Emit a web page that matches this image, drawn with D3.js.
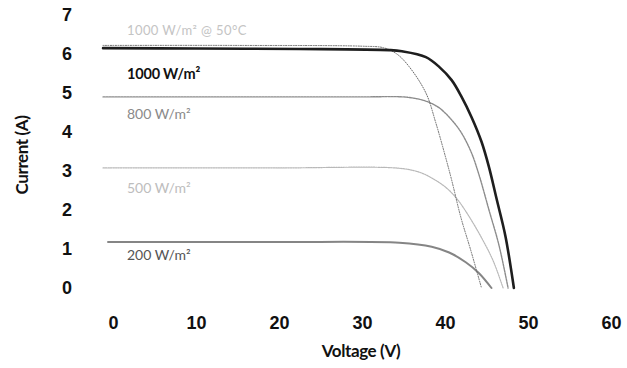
<!DOCTYPE html>
<html>
<head>
<meta charset="utf-8">
<script src="https://cdn.jsdelivr.net/npm/d3@7"></script>
<style>
  body { margin: 0; background: #fff; }
  svg { display: block; font-family: "Lato", "DejaVu Sans", sans-serif; }
  .tick text { font-size: 18px; font-weight: 700; fill: #111; }
</style>
</head>
<body>
<div id="chart"></div>
<script>
// CONSTANTS
const WIDTH = 627;
const HEIGHT = 368;

// tick values
const xTicks = [0, 10, 20, 30, 40, 50, 60];
const yTicks = [0, 1, 2, 3, 4, 5, 6, 7];

// I-V curves, [voltage V, current A]
const curve1000 = [[-1.2, 6.15], [10, 6.14], [22.4, 6.13], [33.3, 6.1], [34.8, 6.07], [37.7, 5.92],
  [39.3, 5.67], [40.8, 5.33], [42.0, 4.9], [43.2, 4.38], [44.4, 3.75], [45.3, 3.1],
  [46.2, 2.3], [47.3, 1.31], [48.3, 0]];
const curve1000hot = [[-1.2, 6.22], [15, 6.22], [30, 6.2], [32.6, 6.16], [34.2, 6.0], [35.7, 5.67],
  [37.7, 5.0], [38.9, 4.23], [40.1, 3.33], [40.8, 2.77], [41.9, 1.82], [43.1, 0.97], [44.4, 0]];
const curve800 = [[-1.2, 4.9], [15, 4.9], [29.6, 4.9], [35.5, 4.89], [37.7, 4.79], [39.3, 4.62],
  [40.8, 4.31], [42.0, 3.97], [43.2, 3.46], [44.1, 2.9], [45.3, 2.0], [46.5, 1.1], [47.6, 0]];
const curve500 = [[-1.2, 3.08], [20, 3.08], [34.5, 3.07], [36.9, 2.97], [38.4, 2.82], [40.1, 2.58],
  [41.5, 2.27], [43.0, 1.8], [44.5, 1.25], [45.8, 0.7], [47.0, 0]];
const curve200 = [[-0.6, 1.18], [20, 1.18], [34.5, 1.16], [38.4, 1.06], [40.5, 0.91], [42.5, 0.66],
  [44.1, 0.38], [45.6, 0]];

const series = [
  { name: "500", values: curve500, color: "#b8b8b8", width: 1.2, dash: "1.5,1" },
  { name: "200", values: curve200, color: "#858585", width: 2, dash: null },
  { name: "800", values: curve800, color: "#8c8c8c", width: 1.4, dash: "2,1" },
  { name: "1000hot", values: curve1000hot, color: "#6a6a6a", width: 1, dash: "1,1.5" },
  { name: "1000", values: curve1000, color: "#1e1e1e", width: 2.6, dash: null }
];

const labels = [
  { text: "1000 W/m² @ 50°C", i: 6.6, color: "#c4c4c4", size: 13, weight: 400, spacing: 0.4 },
  { text: "1000 W/m²", i: 5.5, color: "#111", size: 14.5, weight: 700, spacing: -0.2 },
  { text: "800 W/m²", i: 4.45, color: "#8a8a8a", size: 14, weight: 400, spacing: 0 },
  { text: "500 W/m²", i: 2.57, color: "#bdbdbd", size: 14, weight: 400, spacing: 0 },
  { text: "200 W/m²", i: 0.85, color: "#555", size: 14, weight: 400, spacing: 0 }
];

const svg = d3.select("#chart")
  .append("svg")
  .attr("width", WIDTH)
  .attr("height", HEIGHT);

const x = d3.scaleLinear().domain([0, 60]).range([113, 611]);
const y = d3.scaleLinear().domain([0, 7]).range([288, 15]);

// axes, no lines, just labels
svg.append("g")
  .attr("transform", "translate(0,316)")
  .call(d3.axisBottom(x).tickValues(xTicks).tickSize(0).tickPadding(0))
  .call(g => g.select(".domain").remove());

svg.append("g")
  .attr("transform", "translate(76,0)")
  .call(d3.axisLeft(y).tickValues(yTicks).tickFormat(d3.format("d")).tickSize(0).tickPadding(0))
  .call(g => g.select(".domain").remove())
  .selectAll("text")
  .attr("text-anchor", "middle")
  .attr("x", -9);

const line = d3.line()
  .x(d => x(d[0]))
  .y(d => y(d[1]))
  .curve(d3.curveCatmullRom.alpha(0.5));

svg.append("g")
  .selectAll("path")
  .data(series)
  .join("path")
  .attr("d", d => line(d.values))
  .attr("fill", "none")
  .attr("stroke", d => d.color)
  .attr("stroke-width", d => d.width)
  .attr("stroke-dasharray", d => d.dash)
  .attr("stroke-linecap", "round");

svg.append("g")
  .selectAll("text")
  .data(labels)
  .join("text")
  .attr("x", 127)
  .attr("y", d => y(d.i))
  .attr("dy", "0.35em")
  .attr("fill", d => d.color)
  .attr("font-size", d => d.size)
  .attr("font-weight", d => d.weight)
  .attr("letter-spacing", d => d.spacing)
  .text(d => d.text);

// axis titles
svg.append("text")
  .attr("x", 361)
  .attr("y", 357)
  .attr("text-anchor", "middle")
  .attr("font-size", 17)
  .attr("font-weight", 700)
  .attr("letter-spacing", -0.4)
  .attr("fill", "#111")
  .text("Voltage (V)");

svg.append("text")
  .attr("transform", "translate(28,155) rotate(-90)")
  .attr("text-anchor", "middle")
  .attr("font-size", 17)
  .attr("font-weight", 700)
  .attr("letter-spacing", -0.4)
  .attr("fill", "#111")
  .text("Current (A)");
</script>
</body>
</html>
